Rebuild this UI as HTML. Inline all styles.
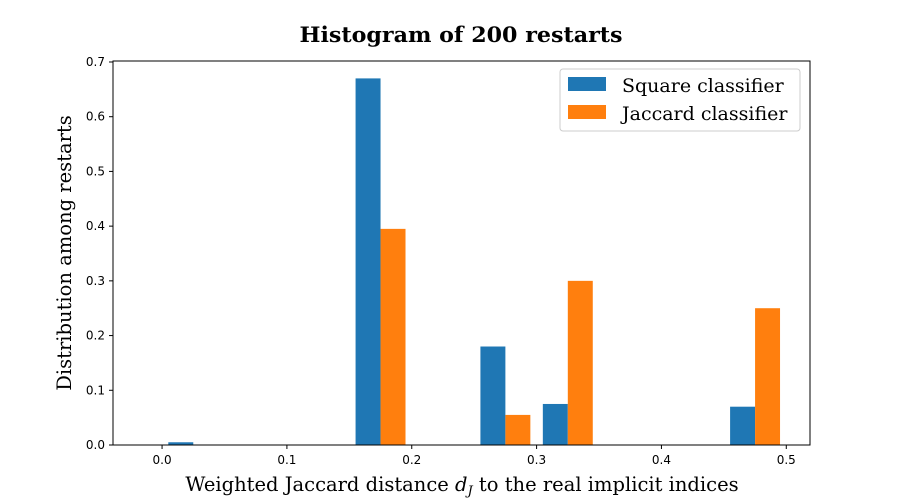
<!DOCTYPE html>
<html><head><meta charset="utf-8"><style>
body{margin:0;background:#fff;}
svg{display:block;}
.tick{font-family:"DejaVu Sans","Liberation Sans",sans-serif;font-size:12px;fill:#000;}
.serif{font-family:"DejaVu Serif","Liberation Serif",serif;fill:#000;}
</style></head><body>
<svg id="chart" width="900" height="500">
<text class="serif" x="461" y="42" text-anchor="middle" font-size="21" font-weight="bold" textLength="323" lengthAdjust="spacingAndGlyphs">Histogram of 200 restarts</text>
<g id="bars"></g>
<g id="axes"></g>
<text class="serif" x="462" y="491" text-anchor="middle" font-size="19.5">Weighted Jaccard distance <tspan font-style="italic">d</tspan><tspan font-style="italic" font-size="13" dy="4">J</tspan><tspan dy="-4"> to the real implicit indices</tspan></text>
<text class="serif" transform="translate(71,253) rotate(-90)" text-anchor="middle" font-size="19.5">Distribution among restarts</text>
<g>
<rect x="560" y="69" width="240" height="62" fill="#fff" stroke="#ccc" rx="3"/>
<rect x="568" y="77" width="38" height="14" fill="#1f77b4"/>
<text class="serif" x="622" y="92" font-size="19">Square classifier</text>
<rect x="568" y="105" width="38" height="14" fill="#ff7f0e"/>
<text class="serif" x="622" y="120" font-size="19">Jaccard classifier</text>
</g>
</svg>
<script>
const binLefts=[0.005,0.155,0.255,0.305,0.455];
const squareValues=[0.005,0.67,0.18,0.075,0.07];
const jaccardValues=[0,0.395,0.055,0.3,0.25];
const xTicks=[0.0,0.1,0.2,0.3,0.4,0.5];
const yTicks=[0.0,0.1,0.2,0.3,0.4,0.5,0.6,0.7];
const barW=0.02;
const L=113,R=810,T=61,B=445;
const xMin=-0.0393,xMax=0.519,yMin=0,yMax=0.7018;
const sx=v=>L+(v-xMin)/(xMax-xMin)*(R-L);
const sy=v=>B-(v-yMin)/(yMax-yMin)*(B-T);
const NS="http://www.w3.org/2000/svg";
const bars=document.getElementById('bars'),axes=document.getElementById('axes');
function bar(x0,v,color,name){
  if(v<=0)return;
  const r=document.createElementNS(NS,'rect');
  r.setAttribute('x',sx(x0));r.setAttribute('width',sx(x0+barW)-sx(x0));
  r.setAttribute('y',sy(v));r.setAttribute('height',sy(0)-sy(v));
  r.setAttribute('fill',color);
  
  
  bars.appendChild(r);
}
binLefts.forEach((b,i)=>{
  bar(b,squareValues[i],'#1f77b4','bar-square-'+i);
  bar(b+barW,jaccardValues[i],'#ff7f0e','bar-jaccard-'+i);
});
const frame=document.createElementNS(NS,'rect');
frame.setAttribute('x',L);frame.setAttribute('y',T);frame.setAttribute('width',R-L);frame.setAttribute('height',B-T);
frame.setAttribute('fill','none');frame.setAttribute('stroke','#000');frame.setAttribute('stroke-width','1');


axes.appendChild(frame);
xTicks.forEach(t=>{
  const x=sx(t);
  const l=document.createElementNS(NS,'line');
  l.setAttribute('x1',x);l.setAttribute('x2',x);l.setAttribute('y1',B);l.setAttribute('y2',B+4);l.setAttribute('stroke','#000');
  
  
  axes.appendChild(l);
  const tx=document.createElementNS(NS,'text');
  tx.setAttribute('x',x);tx.setAttribute('y',B+19);tx.setAttribute('text-anchor','middle');tx.setAttribute('class','tick');
  tx.textContent=t.toFixed(1);
  
  
  axes.appendChild(tx);
});
yTicks.forEach(t=>{
  const y=sy(t);
  const l=document.createElementNS(NS,'line');
  l.setAttribute('x1',L-4);l.setAttribute('x2',L);l.setAttribute('y1',y);l.setAttribute('y2',y);l.setAttribute('stroke','#000');
  
  
  axes.appendChild(l);
  const tx=document.createElementNS(NS,'text');
  tx.setAttribute('x',L-8);tx.setAttribute('y',y+4);tx.setAttribute('text-anchor','end');tx.setAttribute('class','tick');
  tx.textContent=t.toFixed(1);
  
  
  axes.appendChild(tx);
});
</script>
</body></html>
